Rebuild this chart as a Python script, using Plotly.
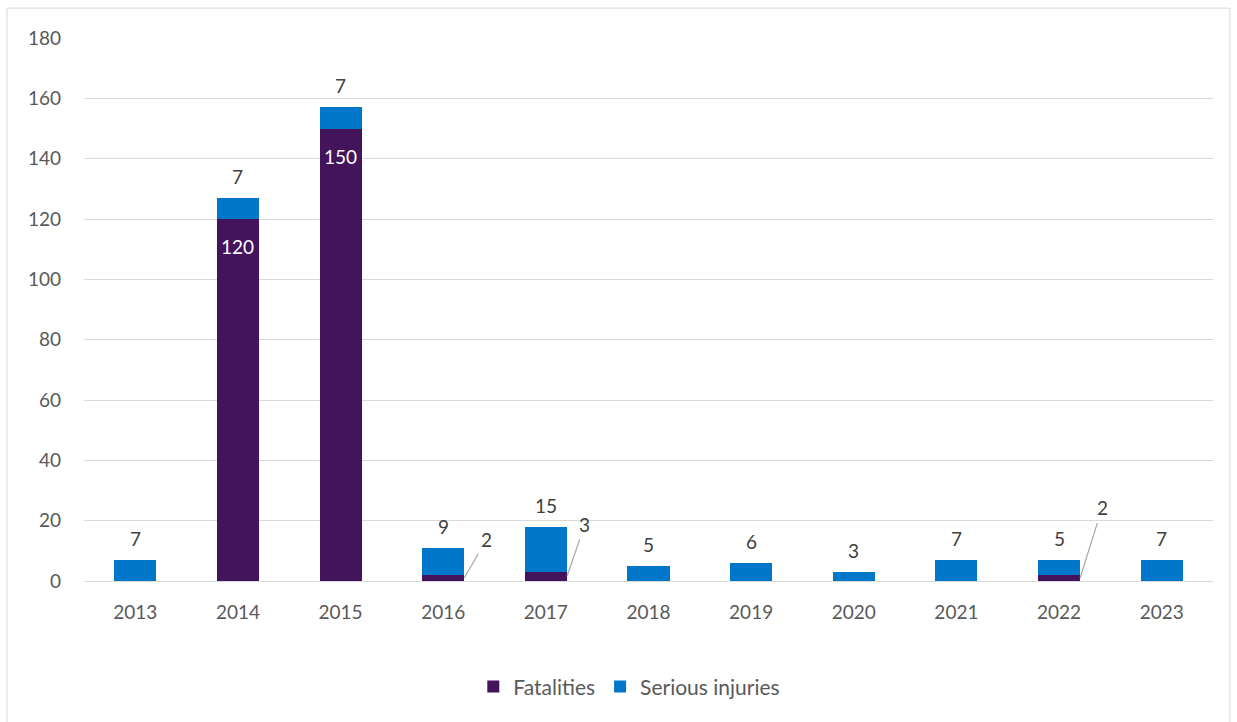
import plotly.graph_objects as go

years = ["2013", "2014", "2015", "2016", "2017", "2018", "2019", "2020", "2021", "2022", "2023"]
fatalities = [0, 120, 150, 2, 3, 0, 0, 0, 0, 2, 0]
serious_injuries = [7, 7, 7, 9, 15, 5, 6, 3, 7, 5, 7]

# leader-line label offsets (pixels) for small fatality values
leader_offsets = {"2016": (22, -38), "2017": (18, -52), "2022": (22, -70)}

FONT = "Lato"
FS = 19
TXT = "#404040"
AX = "#595959"
BARW = 0.41

fig = go.Figure()
fig.add_trace(go.Bar(
    x=years, y=fatalities, name="Fatalities", marker_color="#43135C",
    width=BARW, marker_line_width=0,
))
fig.add_trace(go.Bar(
    x=years, y=serious_injuries, name="Serious injuries", marker_color="#0077C8",
    width=BARW, marker_line_width=0,
))

annotations = []
for i, (yr, f, s) in enumerate(zip(years, fatalities, serious_injuries)):
    # serious injuries label above the stack
    annotations.append(dict(
        x=i, y=f + s, xref="x", yref="y", text=str(s), showarrow=False,
        yanchor="bottom", yshift=8, font=dict(size=FS, color=TXT, family=FONT),
    ))
    if f >= 50:
        annotations.append(dict(
            x=i, y=f, xref="x", yref="y", text=str(f), showarrow=False,
            yanchor="top", yshift=-14, font=dict(size=FS, color="white", family=FONT),
        ))
    elif f > 0:
        ax, ay = leader_offsets.get(yr, (22, -40))
        annotations.append(dict(
            x=i + BARW / 2, y=f / 2, xref="x", yref="y", text=str(f),
            showarrow=True, arrowhead=0, arrowwidth=1.2, arrowcolor="#A6A6A6",
            ax=ax, ay=ay, font=dict(size=FS, color=TXT, family=FONT),
            standoff=0, startstandoff=2,
        ))

fig.update_layout(
    width=1237, height=722,
    barmode="stack",
    plot_bgcolor="white", paper_bgcolor="white",
    margin=dict(l=84, r=24, t=38, b=141),
    font=dict(family=FONT, size=FS, color=AX),
    showlegend=True,
    legend=dict(orientation="h", x=0.483, xanchor="center", y=-0.195, yanchor="middle",
                font=dict(size=21, color=AX, family=FONT), traceorder="normal",
                itemwidth=30),
    annotations=annotations,
    shapes=[dict(type="rect", xref="paper", yref="paper",
                 x0=-0.0682, x1=1.015, y0=-0.3, y1=1.055,
                 line=dict(color="#D9D9D9", width=1), layer="below")],
)
fig.update_xaxes(type="category", showgrid=False, showline=True, linecolor="#D9D9D9",
                 linewidth=1, ticks="", tickfont=dict(size=FS, color=AX, family=FONT),
                 ticklabelstandoff=14)
fig.update_yaxes(range=[0, 180], dtick=20, showgrid=True, gridcolor="#D9D9D9",
                 gridwidth=1, zeroline=False, showline=False, ticks="",
                 tickfont=dict(size=FS, color=AX, family=FONT), ticklabelstandoff=22)

fig.write_html("out.html", config={"displayModeBar": False},
               post_script="document.body.style.margin='0';")
